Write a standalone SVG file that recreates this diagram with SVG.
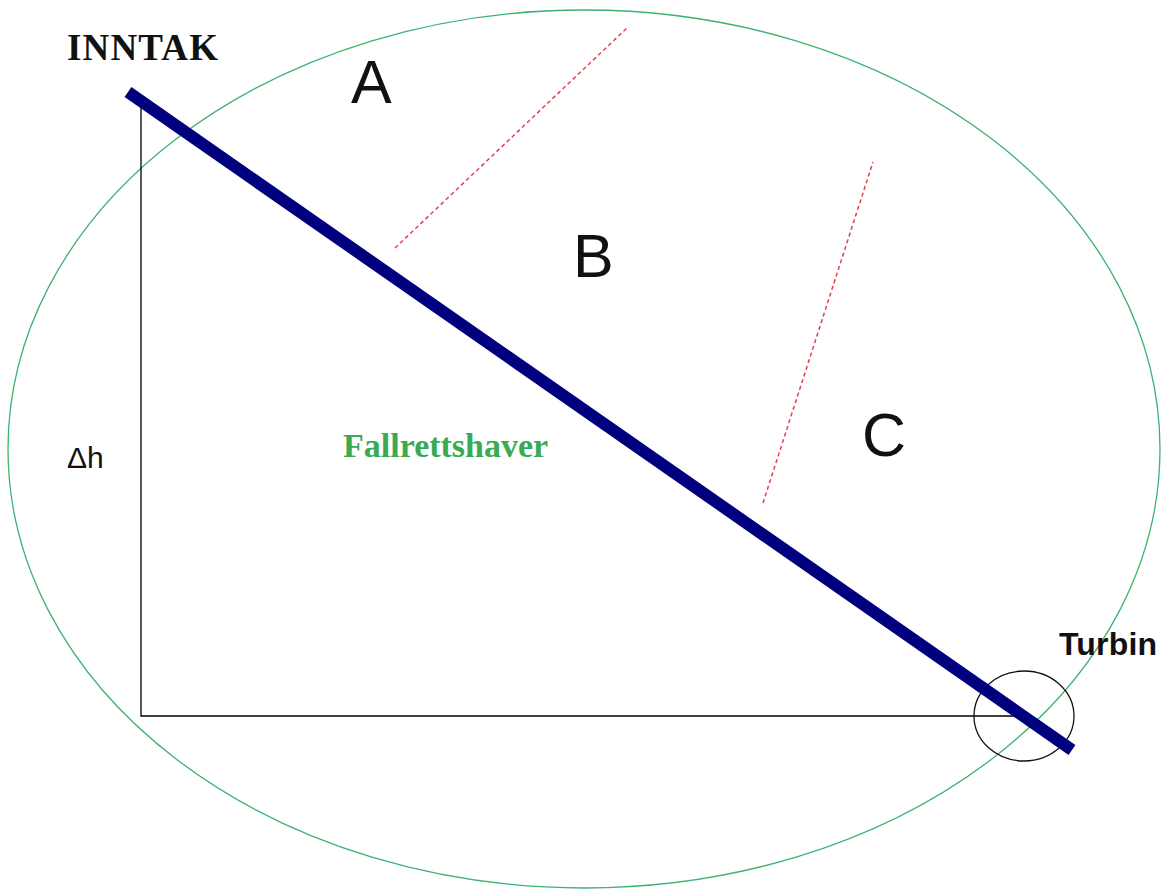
<svg xmlns="http://www.w3.org/2000/svg" width="1167" height="890" viewBox="0 0 1167 890">
<style>
.zone{font-family:"Liberation Sans",Arial,sans-serif;font-size:61px;fill:#111}
.dash{stroke:#e0404f;stroke-width:1.5;stroke-dasharray:4 3;fill:none}
</style>
<rect width="1167" height="890" fill="#fff"/>
<g id="boundary"><ellipse cx="584" cy="449" rx="576" ry="439" fill="none" stroke="#3cb371" stroke-width="1.3"/></g>
<g id="triangle"><polyline points="141,100 141,716 1018,716" fill="none" stroke="#000" stroke-width="1.3"/></g>
<g id="turbin"><ellipse cx="1024" cy="716" rx="50" ry="45" fill="none" stroke="#111" stroke-width="1.3"/>
<text x="1059" y="655" font-family="'Liberation Sans',Arial,sans-serif" font-weight="bold" font-size="32" fill="#111" textLength="98">Turbin</text></g>
<g id="connectors">
<line x1="128" y1="92" x2="1072" y2="750" stroke="#00007f" stroke-width="12"/>
<line class="dash" x1="395" y1="248" x2="628" y2="27"/>
<line class="dash" x1="763" y1="503" x2="873" y2="162"/>
</g>
<g id="inntak"><text x="67" y="60" font-family="'Liberation Serif','Times New Roman',serif" font-weight="bold" font-size="37" fill="#111" textLength="151">INNTAK</text></g>
<g id="zoneA"><text class="zone" x="351" y="103">A</text></g>
<g id="zoneB"><text class="zone" x="573" y="277">B</text></g>
<g id="zoneC"><text class="zone" x="862" y="456">C</text></g>
<g id="dh"><text x="67" y="468" font-family="'Liberation Sans',Arial,sans-serif" font-size="30" fill="#111">Δh</text></g>
<g id="fallrett"><text x="343" y="457" font-family="'Liberation Serif','Times New Roman',serif" font-weight="bold" font-size="34" fill="#3aaa52">Fallrettshaver</text></g>
</svg>
